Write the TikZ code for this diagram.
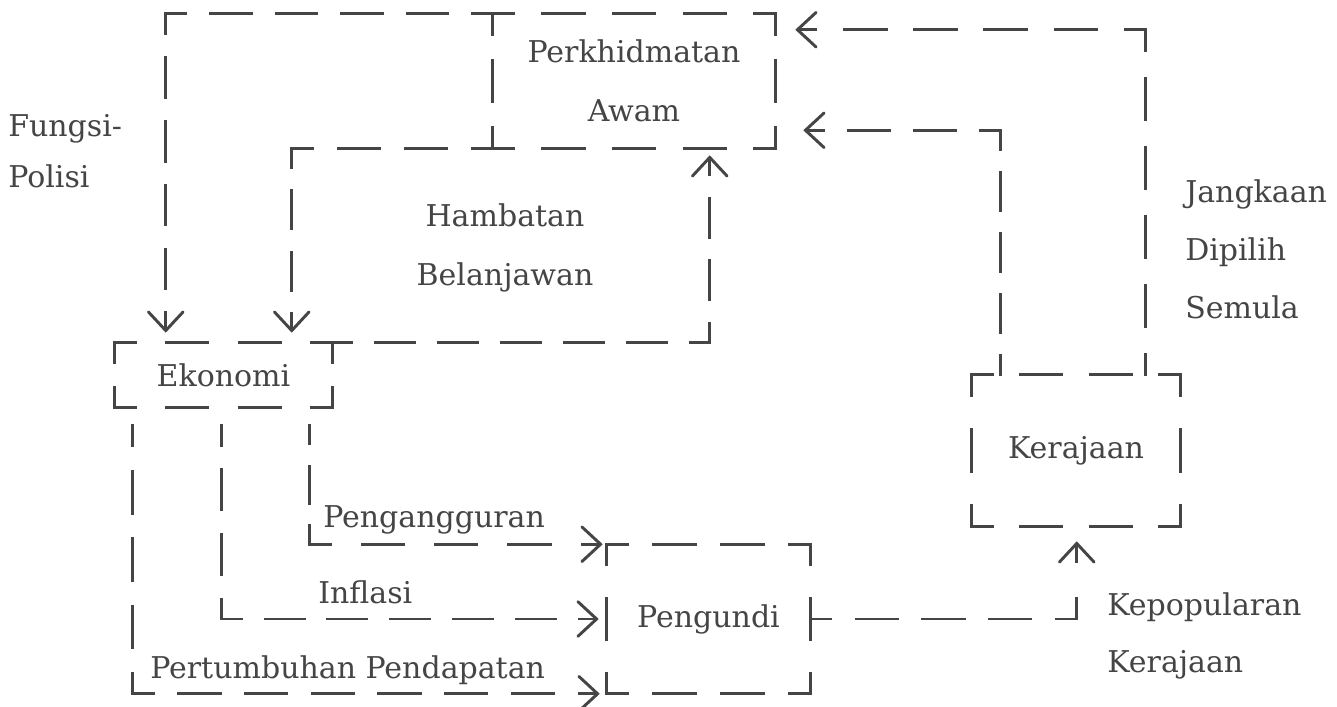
\documentclass[tikz,border=0pt]{standalone}
\usepackage{fontspec}
\setmainfont{DejaVu Serif}
\usetikzlibrary{arrows.meta,calc}
\definecolor{ink}{HTML}{454545}
% dashed segment whose ends are half dashes (so corners read as solid L shapes)
\newcommand\dsSeg[3][]{%
  \path (#2); \pgfgetlastxy{\dsAx}{\dsAy}%
  \path (#3); \pgfgetlastxy{\dsBx}{\dsBy}%
  \pgfmathsetmacro\dsL{veclen(\dsBx-\dsAx,\dsBy-\dsAy)}%
  \pgfmathsetmacro\dsN{max(1,round(\dsL/50))}%
  \pgfmathsetmacro\dsOn{min(31,0.62*\dsL/\dsN)}%
  \pgfmathsetmacro\dsOff{\dsL/\dsN-\dsOn}%
  \pgfmathsetmacro\dsPh{\dsOn/2}%
  \draw[dline,dash pattern=on \dsOn pt off \dsOff pt,dash phase=\dsPh pt,#1] (#2) -- (#3);}
\newcommand\dsFrame[1]{%
  \dsSeg{#1.north west}{#1.north east}%
  \dsSeg{#1.north east}{#1.south east}%
  \dsSeg{#1.south east}{#1.south west}%
  \dsSeg{#1.south west}{#1.north west}}
\begin{document}
\begin{tikzpicture}[x=0.75pt,y=-0.75pt,
  dline/.style={draw=ink, line width=2.2pt, line cap=rect},
  box/.style={rectangle, inner sep=0pt, align=center, text=ink, font=\fontsize{22.5}{44}\selectfont},
  arr/.style={-{Straight Barb[length=14pt,width=26pt,line cap=round]}},
  lab/.style={text=ink, font=\fontsize{22.5}{44}\selectfont, inner sep=0pt},
]
\useasboundingbox (0,0) rectangle (1337,706);
\fill[white] (0,0) rectangle (1337,706);

% boxes
\node[box, minimum width=211.5pt, minimum height=100.5pt] (PA) at (634,81) {Perkhidmatan\\Awam};
\node[box, minimum width=162.75pt, minimum height=48pt] (EK) at (223.5,375) {Ekonomi};
\node[box, minimum width=156pt, minimum height=113.25pt] (KE) at (1076,450.5) {Kerajaan};
\node[box, minimum width=152.25pt, minimum height=111.75pt] (PE) at (708.5,619) {Pengundi};
\dsFrame{PA}
\dsFrame{EK}
\dsFrame{KE}
\dsFrame{PE}

% connector ends and corners
\coordinate (e1) at ($(EK.north west)+(51,-10)$);
\coordinate (k1) at (PA.north west -| e1);
\coordinate (e2) at ($(EK.north west)+(177,-10)$);
\coordinate (k2) at (PA.south west -| e2);
\coordinate (e3) at ($(PA.south west)+(217,7)$);
\coordinate (k3) at (EK.north east -| e3);
\coordinate (s4) at ($(KE.north west)+(174,0)$);
\coordinate (e4) at ($(PA.north east)+(20,16)$);
\coordinate (k4) at (s4 |- e4);
\coordinate (s5) at ($(KE.north west)+(29,0)$);
\coordinate (e5) at ($(PA.south east)+(28,-18)$);
\coordinate (k5) at (s5 |- e5);
\coordinate (e6) at ($(KE.south west)+(105,15)$);
\coordinate (k6) at (PE.east -| e6);
\coordinate (s7) at ($(EK.south west)+(195,18)$);
\coordinate (e7) at ($(PE.north west)+(-4,0)$);
\coordinate (k7) at (s7 |- e7);
\coordinate (s8) at ($(EK.south west)+(107,18)$);
\coordinate (e8) at ($(PE.west)+(-8,0)$);
\coordinate (k8) at (s8 |- e8);
\coordinate (s9) at ($(EK.south west)+(18,18)$);
\coordinate (e9) at ($(PE.south west)+(-7,0)$);
\coordinate (k9) at (s9 |- e9);

% connectors
\dsSeg{PA.north west}{k1}\dsSeg[arr]{k1}{e1}
\dsSeg{PA.south west}{k2}\dsSeg[arr]{k2}{e2}
\dsSeg{EK.north east}{k3}\dsSeg[arr]{k3}{e3}
\dsSeg{s4}{k4}\dsSeg[arr]{k4}{e4}
\dsSeg{s5}{k5}\dsSeg[arr]{k5}{e5}
\dsSeg{PE.east}{k6}\dsSeg[arr]{k6}{e6}
\dsSeg{s7}{k7}\dsSeg[arr]{k7}{e7}
\dsSeg{s8}{k8}\dsSeg[arr]{k8}{e8}
\dsSeg{s9}{k9}\dsSeg[arr]{k9}{e9}

% labels
\node[lab, anchor=base west] (fp1) at (8,137) {Fungsi-};
\node[lab, anchor=base west] (fp2) at (8,187) {Polisi};
\node[lab, anchor=base] (hb1) at (505,226) {Hambatan};
\node[lab, anchor=base] (hb2) at (505,285) {Belanjawan};
\node[lab, anchor=base west] (jd1) at (1185,202) {Jangkaan};
\node[lab, anchor=base west] (jd2) at (1185,260) {Dipilih};
\node[lab, anchor=base west] (jd3) at (1185,318) {Semula};
\node[lab, anchor=base west] (kp1) at (1107,615) {Kepopularan};
\node[lab, anchor=base west] (kp2) at (1107,672) {Kerajaan};
\node[lab, anchor=base west] (lpg) at (323,527) {Pengangguran};
\node[lab, anchor=base west] (lin) at (318,603) {Inflasi};
\node[lab, anchor=base west] (lpp) at (150,678) {Pertumbuhan Pendapatan};
\end{tikzpicture}
\end{document}
